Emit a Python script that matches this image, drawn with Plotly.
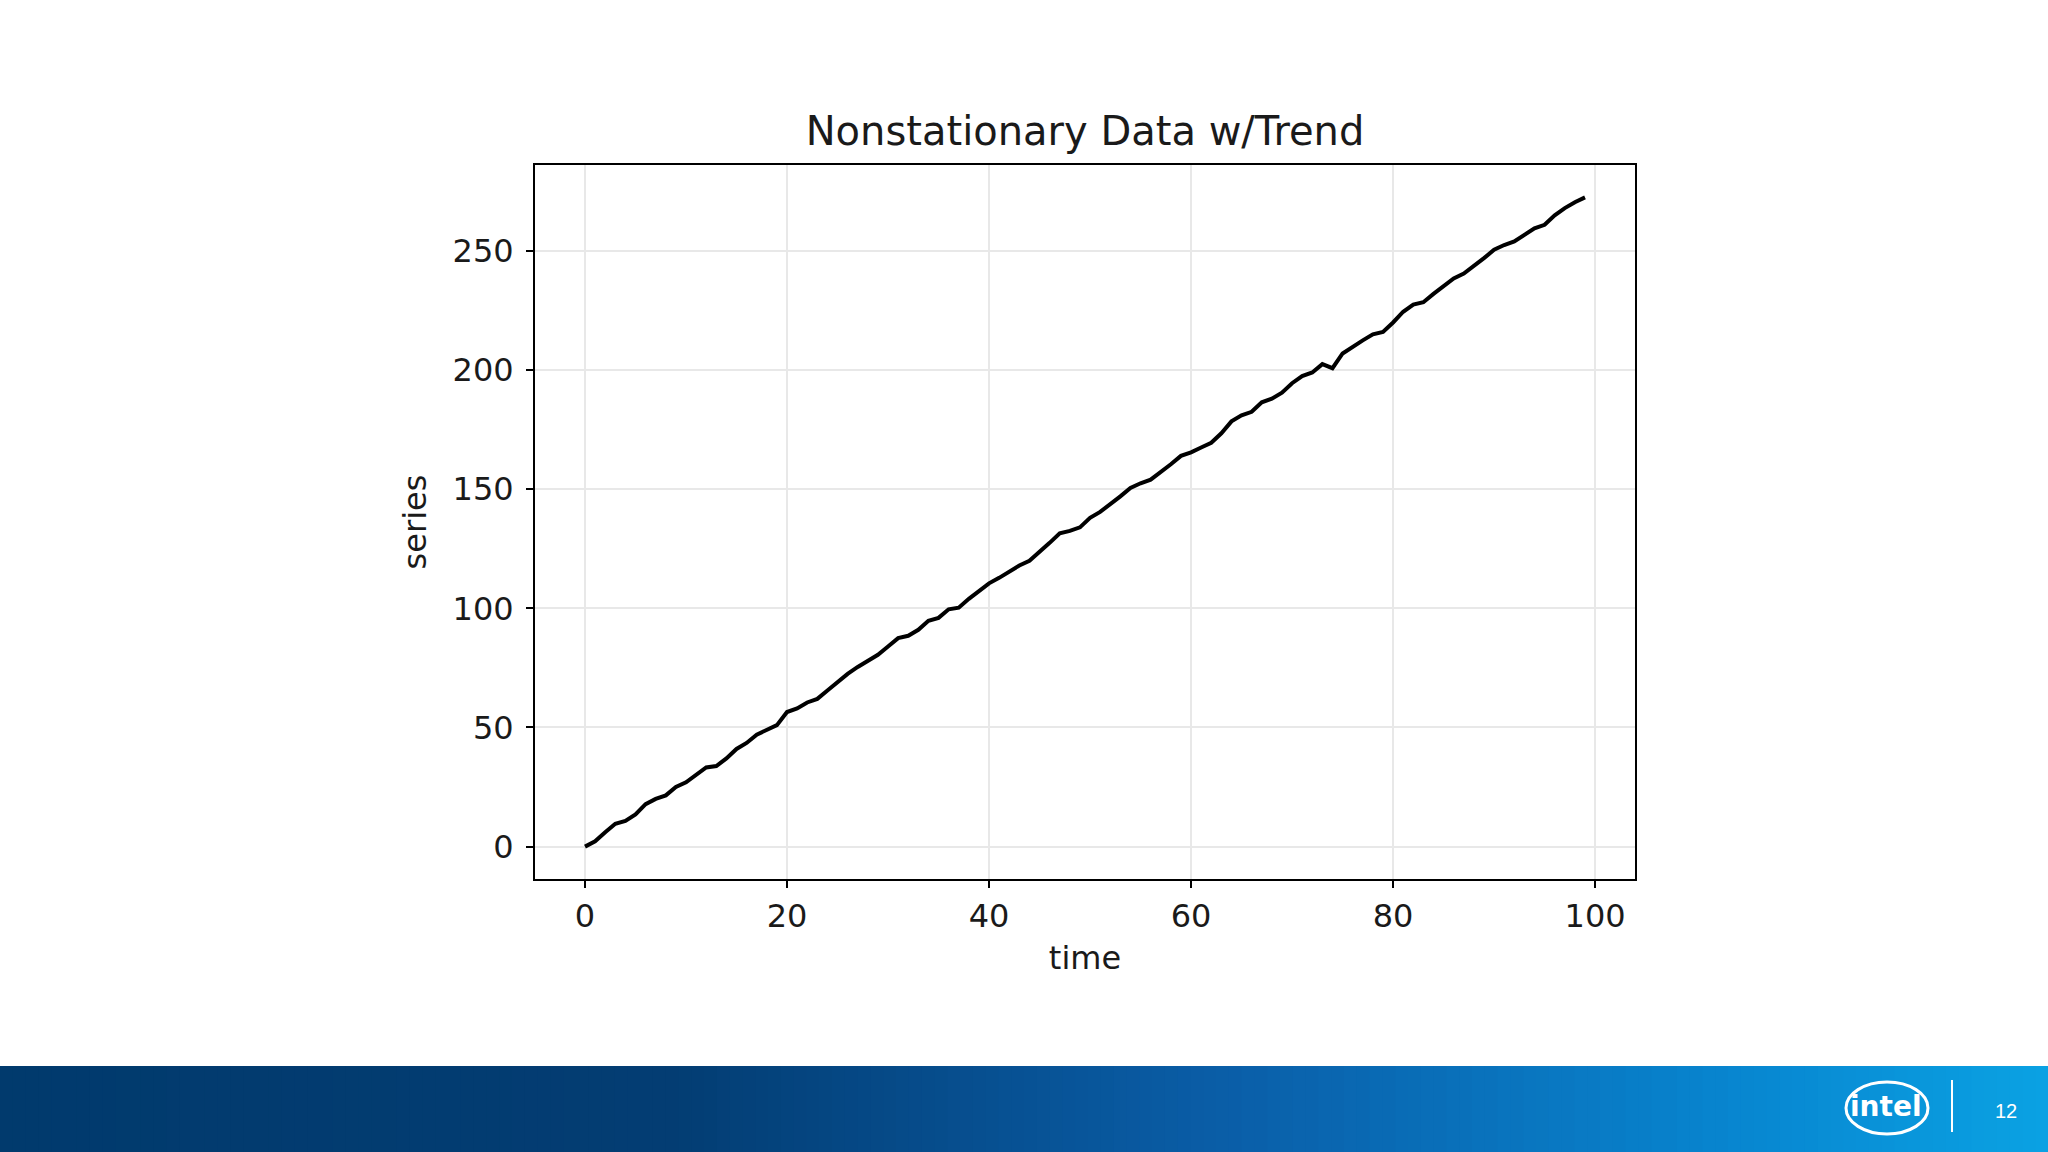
import plotly.graph_objects as go

W, H = 2048, 1152
# plot area in pixels
PL, PR, PT, PB = 535, 1635, 165, 879

time = list(range(100))
series = [
    0.0, 2.2, 6.0, 9.6, 10.8, 13.5, 17.8, 20.0, 21.5, 25.0,
    27.0, 30.0, 33.2, 33.8, 37.0, 41.0, 43.5, 47.0, 49.0, 51.0,
    56.5, 58.0, 60.5, 62.0, 65.5, 69.0, 72.5, 75.4, 78.0, 80.5,
    84.0, 87.5, 88.5, 91.0, 94.8, 96.0, 99.6, 100.3, 104.0, 107.5,
    110.5, 112.8, 115.5, 118.0, 120.0, 123.5, 127.5, 131.5, 132.5, 134.0,
    138.0, 140.5, 143.5, 147.0, 150.5, 152.5, 154.0, 157.0, 160.5, 164.0,
    165.5, 167.5, 169.5, 173.5, 178.5, 181.0, 182.5, 186.5, 188.0, 190.5,
    194.5, 197.5, 199.0, 202.5, 200.8, 207.0, 210.0, 212.5, 215.0, 216.0,
    220.0, 224.5, 227.5, 228.5, 232.0, 235.5, 238.5, 240.5, 243.5, 247.0,
    250.5, 252.5, 254.0, 257.0, 259.5, 261.0, 265.0, 268.0, 270.5, 272.5,
]
x_ticks = [0, 20, 40, 60, 80, 100]
y_ticks = [0, 50, 100, 150, 200, 250]

FONT = "DejaVu Sans"


def px(x):
    return (x - PL) / (PR - PL)


def py(y):
    return (PB - y) / (PB - PT)


def lerp_hex(c1, c2, t):
    a = [int(c1[i:i + 2], 16) for i in (1, 3, 5)]
    b = [int(c2[i:i + 2], 16) for i in (1, 3, 5)]
    return "#" + "".join(f"{round(a[i] + (b[i] - a[i]) * t):02x}" for i in range(3))


# footer gradient stops (position across page, colour)
stops = [(0.0, "#013a6d"), (0.33, "#033d73"), (0.6, "#0a5ea8"),
         (0.85, "#0886d0"), (1.0, "#0aa2e3")]


def grad(t):
    for (t0, c0), (t1, c1) in zip(stops, stops[1:]):
        if t <= t1:
            return lerp_hex(c0, c1, (t - t0) / (t1 - t0))
    return stops[-1][1]


fig = go.Figure()
fig.add_trace(go.Scatter(
    x=time, y=series, mode="lines",
    line={"color": "black", "width": 4},
    showlegend=False,
))

shapes = []
n = 160
for i in range(n):
    x0 = W * i / n
    x1 = W * (i + 1) / n + 1
    shapes.append(dict(
        type="rect", xref="paper", yref="paper",
        x0=px(x0), x1=px(x1), y0=py(H), y1=py(1066),
        fillcolor=grad((i + 0.5) / n), line={"width": 0}, layer="above",
    ))
# intel logo swoosh + divider
shapes.append(dict(type="circle", xref="paper", yref="paper",
                   x0=px(1846), x1=px(1928), y0=py(1134), y1=py(1082),
                   line={"color": "white", "width": 3}, layer="above"))
shapes.append(dict(type="line", xref="paper", yref="paper",
                   x0=px(1952), x1=px(1952), y0=py(1132), y1=py(1080),
                   line={"color": "white", "width": 2}, layer="above"))

annotations = [
    dict(text="<b>intel</b>", x=px(1886), y=py(1106), xref="paper", yref="paper",
         showarrow=False, font={"family": FONT, "size": 28, "color": "white"},
         xanchor="center", yanchor="middle"),
    dict(text="12", x=px(2006), y=py(1111), xref="paper", yref="paper",
         showarrow=False, font={"family": "Liberation Sans", "size": 20, "color": "white"},
         xanchor="center", yanchor="middle"),
]

axis_common = dict(
    showline=True, mirror=True, linecolor="black", linewidth=2,
    ticks="outside", ticklen=7, tickwidth=2, tickcolor="black",
    showgrid=True, gridcolor="#e8e8e8", gridwidth=1.5,
    zeroline=False, tickfont={"family": FONT, "size": 32, "color": "#1a1a1a"},
)

fig.update_layout(
    width=W, height=H,
    margin={"l": PL, "r": W - PR, "t": PT, "b": H - PB},
    paper_bgcolor="white", plot_bgcolor="white",
    title={"text": "Nonstationary Data w/Trend", "x": px(1085), "xref": "paper",
           "y": 1 - 131 / H, "yref": "container", "xanchor": "center",
           "yanchor": "middle", "font": {"family": FONT, "size": 40, "color": "#1a1a1a"}},
    xaxis=dict(axis_common, range=[-4.95, 103.95], tickvals=x_ticks,
               ticklabelstandoff=1,
               title={"text": "time", "standoff": 12,
                      "font": {"family": FONT, "size": 32, "color": "#1a1a1a"}}),
    yaxis=dict(axis_common, range=[-13.6, 286.1], tickvals=y_ticks,
               ticklabelstandoff=6,
               title={"text": "series", "standoff": 16,
                      "font": {"family": FONT, "size": 32, "color": "#1a1a1a"}}),
    shapes=shapes,
    annotations=annotations,
)

fig.write_html("out.html", config={"displayModeBar": False},
               post_script="document.body.style.margin='0';")
